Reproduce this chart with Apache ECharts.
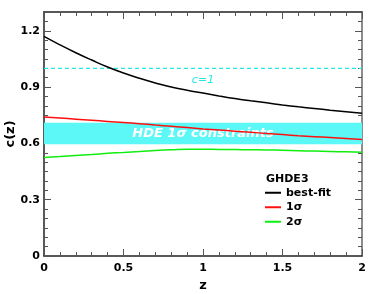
<!DOCTYPE html>
<html><head><meta charset="utf-8">
<script src="https://cdn.jsdelivr.net/npm/echarts@6/dist/echarts.min.js"></script>
<style>html,body{margin:0;padding:0;background:#fff}#c{width:390px;height:294px}</style>
</head><body><div id="c"></div>
<script>
const zValues = [0,0.1,0.2,0.3,0.4,0.5,0.6,0.7,0.8,0.9,1.0,1.1,1.2,1.3,1.4,1.5,1.6,1.7,1.8,1.9,2.0];
const bestFit = [1.170,1.125,1.083,1.044,1.007,0.975,0.947,0.922,0.900,0.883,0.868,0.853,0.839,0.827,0.816,0.805,0.795,0.786,0.777,0.769,0.760];
const sigma1 = [0.740,0.735,0.729,0.723,0.717,0.711,0.705,0.698,0.691,0.684,0.677,0.671,0.665,0.659,0.653,0.647,0.641,0.636,0.631,0.626,0.621];
const sigma2 = [0.525,0.530,0.536,0.541,0.547,0.552,0.557,0.562,0.566,0.569,0.569,0.568,0.567,0.566,0.565,0.563,0.561,0.559,0.557,0.555,0.553];
const bandRange = [0.595, 0.71];
const refLine = 1.0;
const xTicks = ['0','0.5','1','1.5','2'];
const yTicks = ['0','0.3','0.6','0.9','1.2'];
const seriesNames = ['best-fit','1σ','2σ'];

const pairs = arr => zValues.map((z,i)=>[z,arr[i]]);
const font = 'DejaVu Sans';
function axisStyle(split, lineColor){
  return {
    axisLine:{show:true,onZero:false,lineStyle:{color:lineColor||'#222',width:1.5}},
    axisTick:{show:true,inside:true,length:7,lineStyle:{color:'#555',width:1}},
    minorTick:{show:true,splitNumber:split,length:4,lineStyle:{color:'#555',width:1}},
    splitLine:{show:false}
  };
}
const chart = echarts.init(document.getElementById('c'));
chart.setOption({
  animation:false,
  grid:{left:44,top:12,right:28,bottom:38,containLabel:false,outerBoundsMode:'none'},
  xAxis:[
    Object.assign({type:'value',min:0,max:2,interval:0.5,position:'bottom',
      name:'z',nameLocation:'middle',nameGap:23,
      nameTextStyle:{fontFamily:font,fontWeight:'bold',fontSize:13,color:'#000'},
      axisLabel:{fontFamily:font,fontWeight:'bold',fontSize:11,color:'#000',margin:7,
        formatter:v=>xTicks[Math.round(v/0.5)]}}, axisStyle(5)),
    Object.assign({type:'value',min:0,max:2,interval:0.5,position:'top',axisLabel:{show:false}}, axisStyle(5))
  ],
  yAxis:[
    Object.assign({type:'value',min:0,max:1.3,interval:0.3,position:'left',
      name:'c(z)',nameLocation:'middle',nameGap:27,nameRotate:90,nameMoveOverlap:false,
      nameTextStyle:{fontFamily:font,fontWeight:'bold',fontSize:13,color:'#000'},
      axisLabel:{fontFamily:font,fontWeight:'bold',fontSize:11,color:'#000',margin:4,showMaxLabel:false,
        formatter:v=>{const i=Math.round(v/0.3);return Math.abs(v-i*0.3)<1e-6?(yTicks[i]||''):'';}}}, axisStyle(6)),
    Object.assign({type:'value',min:0,max:1.3,interval:0.3,position:'right',axisLabel:{show:false}}, axisStyle(6,'#666'))
  ],
  legend:{
    data:seriesNames, orient:'vertical', left:265, top:186, itemWidth:16, itemHeight:2, itemGap:1,
    icon:'rect', textStyle:{fontFamily:font,fontWeight:'bold',fontSize:11,color:'#000',lineHeight:13.5},
    padding:0
  },
  series:[
    {name:'band',type:'line',data:[],silent:true,z:1,
      markArea:{silent:true,itemStyle:{color:'#5cf8f8',opacity:1},
        label:{show:true,position:'inside',color:'#fff',fontFamily:font,fontWeight:'bold',fontStyle:'italic',fontSize:13,
          formatter:'HDE 1σ constraints'},
        data:[[{xAxis:0,yAxis:bandRange[0]},{xAxis:2,yAxis:bandRange[1]}]]}},
    {name:'c=1',type:'line',data:[[0,refLine],[2,refLine]],symbol:'none',silent:true,z:2,
      lineStyle:{color:'#22e8e8',type:[4,3],width:1.2}},
    {name:seriesNames[0],type:'line',data:pairs(bestFit),symbol:'none',smooth:true,z:3,lineStyle:{color:'#000',width:1.5},itemStyle:{color:'#000'}},
    {name:seriesNames[1],type:'line',data:pairs(sigma1),symbol:'none',smooth:true,z:3,lineStyle:{color:'#ff1010',width:1.5},itemStyle:{color:'#ff1010'}},
    {name:seriesNames[2],type:'line',data:pairs(sigma2),symbol:'none',smooth:true,z:3,lineStyle:{color:'#10ee10',width:1.5},itemStyle:{color:'#10ee10'}}
  ]
});
const p = chart.convertToPixel({gridIndex:0},[1.0, refLine]);
chart.setOption({graphic:[
  {type:'text',left:266,top:174,style:{text:'GHDE3',font:'bold 11px "DejaVu Sans"',fill:'#000'}},
  {type:'text',x:p[0],y:p[1]+12,style:{text:'c=1',font:'italic 11px "DejaVu Sans"',fill:'#22e8e8',align:'center',verticalAlign:'middle'}}
]});
</script></body></html>
